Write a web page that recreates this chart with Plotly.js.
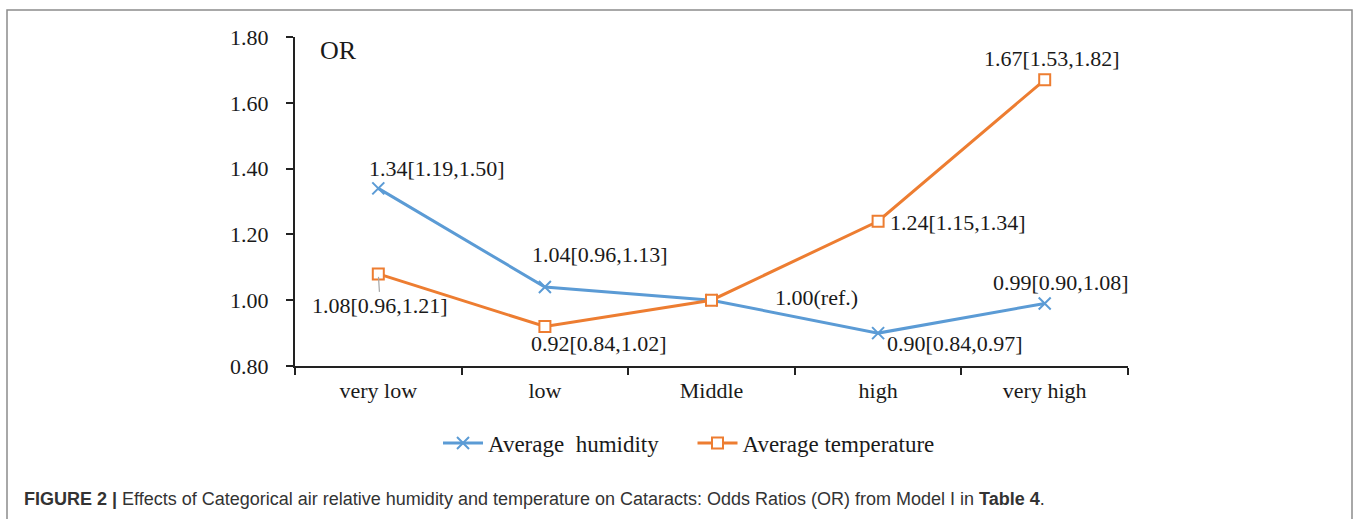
<!DOCTYPE html>
<html>
<head>
<meta charset="utf-8">
<script src="https://cdn.plot.ly/plotly-3.0.1.min.js"></script>
<style>
  html, body { margin: 0; padding: 0; background: #fff; }
  #chart { width: 1360px; height: 519px; }
</style>
</head>
<body>
<div id="chart"></div>
<script>
// ---- data ----
const categories = ["very low", "low", "Middle", "high", "very high"];
const humidityOR = [1.34, 1.04, 1.00, 0.90, 0.99];
const temperatureOR = [1.08, 0.92, 1.00, 1.24, 1.67];
const humidityLabels = ["1.34[1.19,1.50]", "1.04[0.96,1.13]", "1.00(ref.)", "0.90[0.84,0.97]", "0.99[0.90,1.08]"];
const temperatureLabels = ["1.08[0.96,1.21]", "0.92[0.84,1.02]", "", "1.24[1.15,1.34]", "1.67[1.53,1.82]"];
const yTicks = [0.8, 1.0, 1.2, 1.4, 1.6, 1.8];
const seriesNames = ["Average\u00a0 humidity", "Average temperature"];
const captionBold = "FIGURE 2 |";
const captionText = " Effects of Categorical air relative humidity and temperature on Cataracts: Odds Ratios (OR) from Model I in ";
const captionEnd = "Table 4";

// ---- label offsets (pixels) ----
const humOffsets = [[59, 20], [55, 33], [105, 3], [77, -10], [16, 21]];
const tempOffsets = [[2, -32], [54, -17], [0, 0], [80, -1], [7, 21]];

const serif = "Liberation Serif, Times New Roman, serif";
const blue = "#5B9BD5";
const orange = "#ED7D31";
const legendGap = "\u00a0\u00a0\u00a0\u00a0\u00a0";

const traces = [
  {
    type: "scatter", mode: "lines+markers", name: seriesNames[0] + legendGap,
    x: categories, y: humidityOR,
    line: { color: blue, width: 3 },
    marker: { symbol: "x-thin", size: 12, line: { color: blue, width: 2 }, color: blue }
  },
  {
    type: "scatter", mode: "lines+markers", name: seriesNames[1],
    x: categories, y: temperatureOR,
    line: { color: orange, width: 3 },
    marker: { symbol: "square", size: 11, color: "#ffffff", line: { color: orange, width: 2 } }
  }
];

const annotations = [];
humidityLabels.forEach((t, i) => {
  if (!t) return;
  annotations.push({
    x: categories[i], y: humidityOR[i], xref: "x", yref: "y",
    text: t, showarrow: false, xanchor: "center", yanchor: "middle",
    xshift: humOffsets[i][0], yshift: humOffsets[i][1],
    font: { family: serif, size: 22, color: "#1a1a1a" }
  });
});
temperatureLabels.forEach((t, i) => {
  if (!t) return;
  if (i === 0) {
    annotations.push({
      x: categories[i], y: temperatureOR[i], xref: "x", yref: "y",
      text: t, showarrow: true, arrowhead: 0, arrowwidth: 1.2, arrowcolor: "#a6a6a6",
      ax: tempOffsets[i][0], ay: -tempOffsets[i][1], standoff: 3,
      xanchor: "center", yanchor: "middle",
      font: { family: serif, size: 22, color: "#1a1a1a" }
    });
  } else {
    annotations.push({
      x: categories[i], y: temperatureOR[i], xref: "x", yref: "y",
      text: t, showarrow: false, xanchor: "center", yanchor: "middle",
      xshift: tempOffsets[i][0], yshift: tempOffsets[i][1],
      font: { family: serif, size: 22, color: "#1a1a1a" }
    });
  }
});
// "OR" axis caption inside plot
annotations.push({
  x: 0.028, y: 0.96, xref: "paper", yref: "paper", text: "OR", showarrow: false,
  xanchor: "left", yanchor: "middle", font: { family: serif, size: 26, color: "#1a1a1a" }
});
// figure caption
annotations.push({
  x: (22 - 295) / 833, y: -0.405, xref: "paper", yref: "paper",
  text: "<b>" + captionBold + "</b>" + captionText + "<b>" + captionEnd + "</b>.",
  showarrow: false, xanchor: "left", yanchor: "middle",
  font: { family: "Liberation Sans Narrow, Liberation Sans, Arial, sans-serif", size: 18, color: "#333333" }
});

const layout = {
  width: 1360, height: 519,
  margin: { l: 295, r: 232, t: 37, b: 153 },
  paper_bgcolor: "#ffffff", plot_bgcolor: "#ffffff",
  showlegend: true,
  legend: {
    orientation: "h", x: 0.473, xanchor: "center", y: -0.234, yanchor: "middle",
    font: { family: serif, size: 23, color: "#1a1a1a" },
    itemwidth: 40, tracegroupgap: 0, bgcolor: "rgba(0,0,0,0)"
  },
  xaxis: {
    type: "category", range: [-0.5, 4.5],
    showline: true, linecolor: "#222", linewidth: 2,
    ticks: "outside", tickson: "boundaries", ticklen: 7, tickwidth: 2, tickcolor: "#222",
    ticklabelstandoff: 4,
    showgrid: false, zeroline: false,
    tickfont: { family: serif, size: 22, color: "#1a1a1a" },
    fixedrange: true
  },
  yaxis: {
    range: [0.8, 1.8], tickvals: yTicks, tickformat: ".2f",
    showline: true, linecolor: "#222", linewidth: 2,
    ticks: "outside", ticklen: 7, tickwidth: 2, tickcolor: "#222",
    ticklabelstandoff: 13,
    showgrid: false, zeroline: false,
    tickfont: { family: serif, size: 22, color: "#1a1a1a" },
    fixedrange: true
  },
  shapes: [{
    type: "rect", xref: "paper", yref: "paper",
    x0: (7 - 295) / 833, x1: (1352 - 295) / 833,
    y0: (366 - 10) / 329, y1: (366 - 540) / 329,
    line: { color: "#8c8c8c", width: 1.5 }, fillcolor: "rgba(0,0,0,0)", layer: "below"
  }],
  annotations: annotations
};

Plotly.newPlot("chart", traces, layout, { displayModeBar: false, staticPlot: true });
</script>
</body>
</html>
